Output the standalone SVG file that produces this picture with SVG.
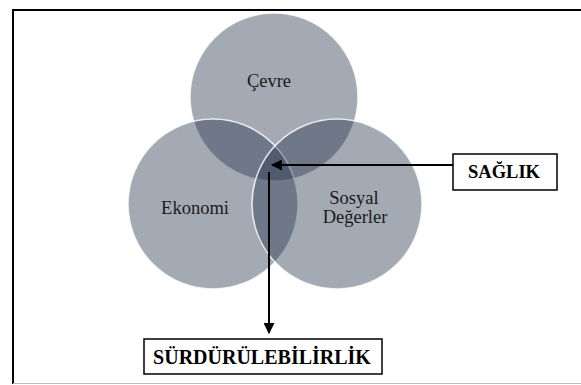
<svg xmlns="http://www.w3.org/2000/svg" width="581" height="385" viewBox="0 0 581 385">
<defs>
<style>
.c{fill:rgb(39,53,77);fill-opacity:0.42;stroke:#fff;stroke-width:1.5;stroke-opacity:0.8}
.t{font-family:'Liberation Serif',serif;font-size:18.5px;fill:#1a1a1a;text-anchor:middle}
.b{font-family:'Liberation Serif',serif;font-size:18.5px;font-weight:bold;fill:#000;text-anchor:middle}
.box{fill:#fff;stroke:#000;stroke-width:1.5}
.ln{stroke:#000;stroke-width:2;fill:none}
</style>
<marker id="ah" viewBox="0 0 10 10" refX="9" refY="5" markerWidth="5.5" markerHeight="5.5" orient="auto" markerUnits="strokeWidth">
<path d="M0,0 L10,5 L0,10 z" fill="#000"/>
</marker>
</defs>
<rect width="581" height="385" fill="#fff"/>
<g id="frame">
<path d="M13,384 L13,10 L581,10" fill="none" stroke="#000" stroke-width="2"/>
<line x1="13" y1="383.5" x2="581" y2="383.5" stroke="#bbb" stroke-width="1"/>
</g>
<g id="cevre"><circle class="c" cx="274" cy="97" r="84"/><text class="t" x="269" y="87">Çevre</text></g>
<g id="ekonomi"><circle class="c" cx="213" cy="204" r="85"/></g>
<g id="sosyal"><circle class="c" cx="337" cy="204" r="85"/></g>
<g id="labels">
<text class="t" x="195" y="214">Ekonomi</text>
<text class="t" x="354" y="204">Sosyal</text>
<text class="t" x="355" y="223">Değerler</text>
</g>
<g id="saglik"><rect class="box" x="453" y="154" width="104" height="36"/><text class="b" x="504" y="178">SAĞLIK</text></g>
<g id="surdurulebilirlik"><rect class="box" x="144" y="339" width="238" height="35"/><text class="b" x="262" y="364" style="font-size:20px">SÜRDÜRÜLEBİLİRLİK</text></g>
<g id="connectors">
<line class="ln" x1="453" y1="165" x2="272" y2="165" marker-end="url(#ah)"/>
<line class="ln" x1="269" y1="172" x2="269" y2="333" marker-end="url(#ah)"/>
</g>
</svg>
